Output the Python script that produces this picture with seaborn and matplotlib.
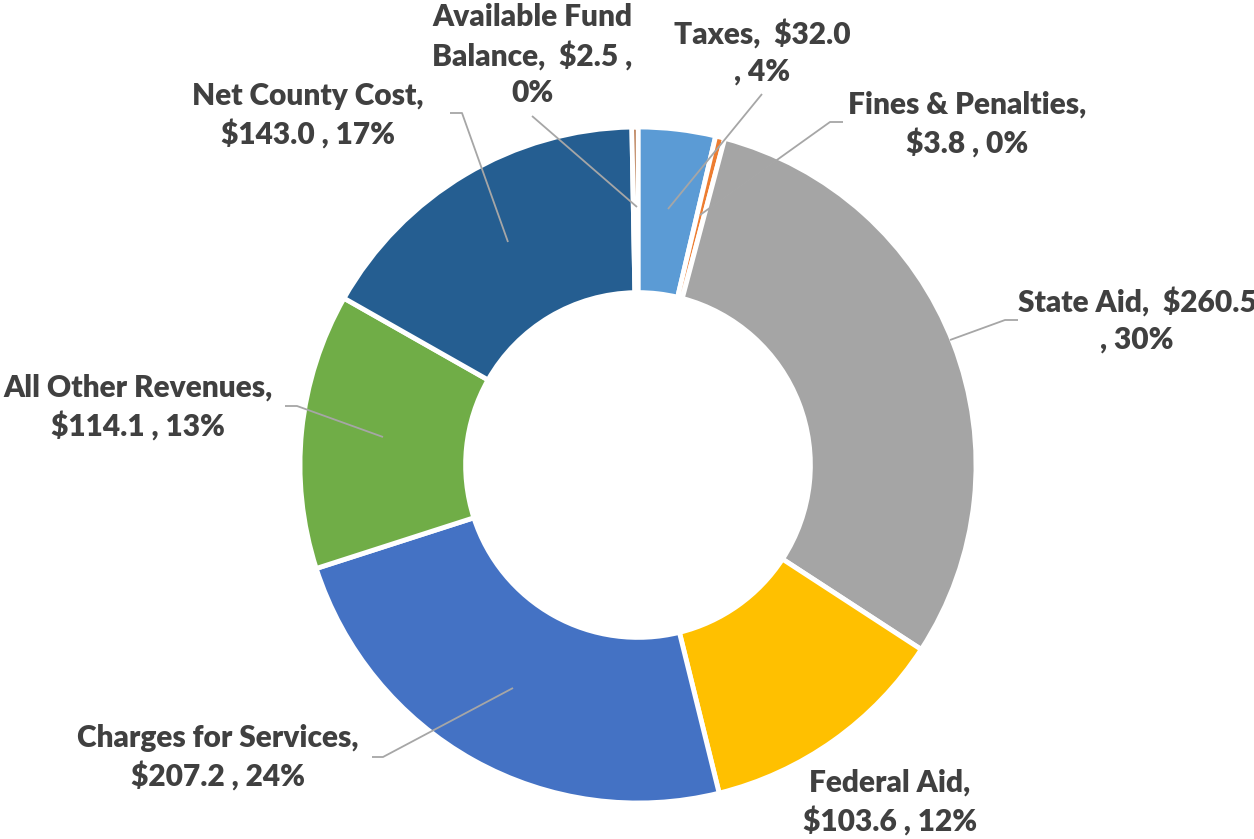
'''Donut chart of county revenue sources (millions of dollars).'''

import seaborn as sns
import matplotlib.pyplot as plt
from matplotlib import use

use('agg')

categories = ['Taxes', 'Fines & Penalties', 'State Aid', 'Federal Aid',
              'Charges for Services', 'All Other Revenues', 'Net County Cost',
              'Available Fund Balance']
amounts = [32.0, 3.8, 260.5, 103.6, 207.2, 114.1, 143.0, 2.5]
percents = [4, 0, 30, 12, 24, 13, 17, 0]
label_texts = [
    'Taxes,  $32.0\n, 4%',
    'Fines & Penalties,\n$3.8 , 0%',
    'State Aid,  $260.5\n, 30%',
    'Federal Aid,\n$103.6 , 12%',
    'Charges for Services,\n$207.2 , 24%',
    'All Other Revenues,\n$114.1 , 13%',
    'Net County Cost,\n$143.0 , 17%',
    'Available Fund\nBalance,  $2.5 ,\n0%',
]
colors = ['#5B9BD5', '#ED7D31', '#A5A5A5', '#FFC000',
          '#4472C4', '#70AD47', '#255E91', '#9E480E']

# layout in pixels (y measured from top), converted below
W, H = 1254, 839
CX, CY, R = 638, 465, 338
label_pos = [(762, 52), (967, 124), (1137, 320), (890, 802),
             (218, 757), (138, 407), (308, 115), (532, 55)]
leaders = [
    [(668, 209), (762, 94)],
    [(700, 215), (830, 122), (843, 122)],
    [(950, 340), (1005, 320), (1018, 320)],
    None,
    [(513, 688), (383, 757), (372, 757)],
    [(383, 437), (297, 406), (285, 406)],
    [(508, 242), (462, 113), (450, 113)],
    [(637, 207), (532, 116)],
]


def px(p):
    return p[0], H - p[1]


sns.set_theme(style='white')
plt.rcParams['font.family'] = ['Lato', 'DejaVu Sans']

fig = plt.figure(figsize=(W / 100, H / 100), dpi=100)
ax = fig.add_axes([0, 0, 1, 1])
ax.pie(amounts, colors=colors, startangle=90, counterclock=False,
       center=px((CX, CY)), radius=R, explode=[0.012] * len(amounts),
       wedgeprops={'width': R * 0.49, 'edgecolor': 'white', 'linewidth': 3.5})
ax.set_xlim(0, W)
ax.set_ylim(0, H)
ax.set_aspect('equal')
ax.axis('off')

for pts in leaders:
    if pts is None:
        continue
    xs, ys = zip(*[px(p) for p in pts])
    ax.plot(xs, ys, color='#A6A6A6', lw=1.3, solid_capstyle='butt')

for txt, pos in zip(label_texts, label_pos):
    x, y = px(pos)
    ax.text(x, y, txt, ha='center', va='center', fontsize=21.5,
            fontweight='heavy', color='#404040', linespacing=1.36)

plt.savefig('out.png', dpi=100, facecolor='white')
